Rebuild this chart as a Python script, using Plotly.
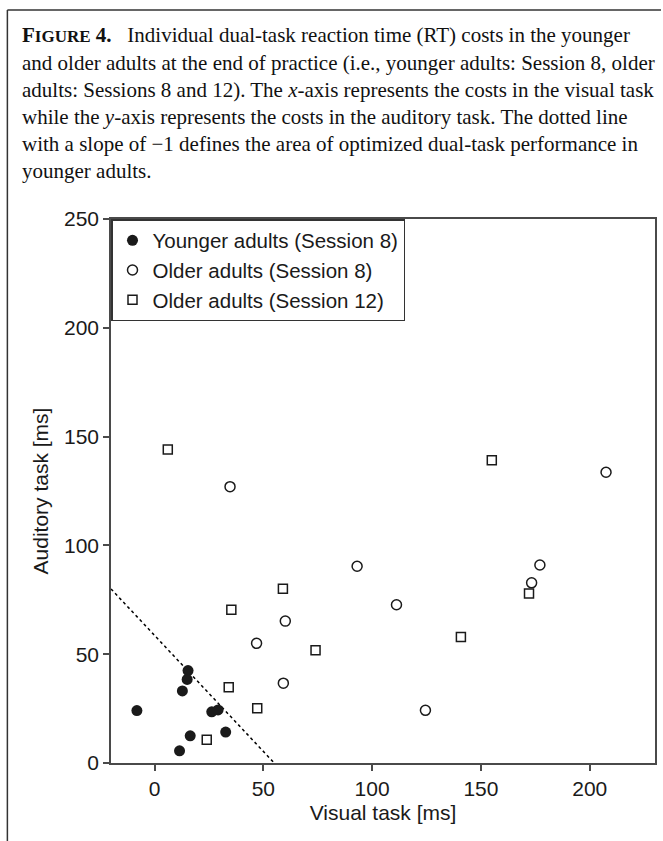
import plotly.graph_objects as go

# ---- data ----
young_s8_x = [-8.1, 15.4, 15.0, 12.8, 26.3, 29.2, 16.4, 32.7, 11.5]
young_s8_y = [24.1, 42.5, 38.4, 33.1, 23.5, 24.4, 12.5, 14.2, 5.6]

older_s8_x = [34.7, 93.1, 60.1, 46.9, 59.2, 207.5, 177.1, 173.3, 111.2, 124.5]
older_s8_y = [127.0, 90.4, 65.2, 55.0, 36.7, 133.6, 91.0, 82.8, 72.7, 24.2]

older_s12_x = [6.1, 59.0, 35.3, 24.0, 34.1, 47.2, 74.0, 155.0, 172.1, 140.8]
older_s12_y = [144.1, 80.1, 70.4, 10.7, 34.8, 25.2, 51.8, 139.1, 77.9, 57.9]

ref_line_x = [-20, 55]
ref_line_y = [80, 0]

x_ticks = [0, 50, 100, 150, 200]
y_ticks = [0, 50, 100, 150, 200, 250]

caption_lines = [
    "<b>F<span style='font-size:17px'>IGURE</span> 4.</b>\u00a0\u00a0\u00a0Individual dual-task reaction time (RT) costs in the younger",
    "and older adults at the end of practice (i.e., younger adults: Session 8, older",
    "adults: Sessions 8 and 12). The <i>x</i>-axis represents the costs in the visual task",
    "while the <i>y</i>-axis represents the costs in the auditory task. The dotted line",
    "with a slope of \u22121 defines the area of optimized dual-task performance in",
    "younger adults.",
]

# ---- layout geometry (pixels) ----
W, H = 663, 841
L, R, T, B = 111, 657, 219, 763
pw, ph = R - L, B - T


def px(x):
    return (x - L) / pw


def py(y):
    return (B - y) / ph


AXC = "#4a4a4a"
TXT = "#1a1a1a"
FONT = "Liberation Sans, Arial, sans-serif"

fig = go.Figure()
fig.add_trace(go.Scatter(
    x=ref_line_x, y=ref_line_y, mode="lines", showlegend=False,
    line=dict(color="black", width=1.5, dash="dot"), hoverinfo="skip"))
fig.add_trace(go.Scatter(
    x=young_s8_x, y=young_s8_y, mode="markers", name="Younger adults (Session 8)",
    marker=dict(symbol="circle", size=11, color="#1a1a1a",
                line=dict(color="#1a1a1a", width=0))))
fig.add_trace(go.Scatter(
    x=older_s8_x, y=older_s8_y, mode="markers", name="Older adults (Session 8)",
    marker=dict(symbol="circle-open", size=10, color="#1a1a1a",
                line=dict(color="#1a1a1a", width=1.5))))
fig.add_trace(go.Scatter(
    x=older_s12_x, y=older_s12_y, mode="markers", name="Older adults (Session 12)",
    marker=dict(symbol="square-open", size=9, color="#1a1a1a",
                line=dict(color="#1a1a1a", width=1.5))))

annotations = []
for i, line in enumerate(caption_lines):
    annotations.append(dict(
        text=line, xref="paper", yref="paper", x=px(20), y=py(35.5 + 27.1 * i),
        xanchor="left", yanchor="middle", showarrow=False, align="left",
        font=dict(family="Liberation Serif, Times New Roman, serif", size=21, color="#111")))

shapes = [
    dict(type="line", xref="paper", yref="paper", x0=px(7), x1=px(663), y0=py(10), y1=py(10),
         line=dict(color="#333", width=1.5)),
    dict(type="line", xref="paper", yref="paper", x0=px(7), x1=px(7), y0=py(10), y1=py(841),
         line=dict(color="#333", width=1.5)),
]

fig.update_layout(
    width=W, height=H,
    margin=dict(l=L, r=W - R, t=T, b=H - B),
    paper_bgcolor="white", plot_bgcolor="white",
    font=dict(family=FONT, color=TXT, size=20),
    showlegend=True,
    legend=dict(x=0, y=1, xanchor="left", yanchor="top", bgcolor="white",
                bordercolor="#333", borderwidth=1.5,
                font=dict(family=FONT, size=20.5, color=TXT),
                itemwidth=30, tracegroupgap=0),
    annotations=annotations,
    shapes=shapes,
    xaxis=dict(range=[-20, 230], tickvals=x_ticks, ticks="outside", ticklen=6,
               tickwidth=1.5, tickcolor=AXC, showline=True, linecolor=AXC, linewidth=1.5,
               mirror=True, showgrid=False, zeroline=False,
               tickfont=dict(size=21, family=FONT, color=TXT),
               title=dict(text="Visual task [ms]", font=dict(size=21, family=FONT, color=TXT),
                          standoff=6)),
    yaxis=dict(range=[0, 250], tickvals=y_ticks, ticks="outside", ticklen=6,
               tickwidth=1.5, tickcolor=AXC, showline=True, linecolor=AXC, linewidth=1.5,
               mirror=True, showgrid=False, zeroline=False,
               tickfont=dict(size=21, family=FONT, color=TXT),
               title=dict(text="Auditory task [ms]", font=dict(size=21, family=FONT, color=TXT),
                          standoff=10)),
)

fig.write_html("out.html")
